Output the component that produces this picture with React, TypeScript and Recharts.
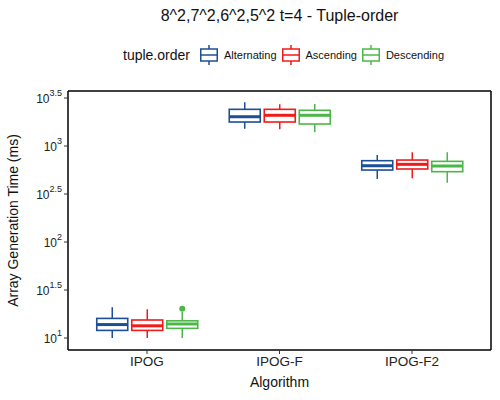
import { Bar, ComposedChart, Legend, XAxis, YAxis } from "recharts";

const algorithms = ["IPOG", "IPOG-F", "IPOG-F2"];
const orders = ["Alternating", "Ascending", "Descending"];
const colors = ["#1c4f96", "#f21a1a", "#4cb748"];

// [min, q1, median, q3, max] for each algorithm
const alternating = [
  [10, 12.0, 13.8, 16.0, 20.9],
  [1513, 1778, 2018, 2410, 2851],
  [453, 562, 623, 703, 806],
];
const ascending = [
  [10, 12.0, 13.4, 15.4, 19.9],
  [1493, 1778, 2089, 2410, 2716],
  [461, 576, 644, 714, 859],
];
const descending = [
  [10, 12.6, 14.0, 15.1, 18.7],
  [1390, 1694, 2089, 2355, 2738],
  [415, 540, 619, 692, 859],
];
const alternatingOutliers = [[], [], []];
const ascendingOutliers = [[], [], []];
const descendingOutliers = [[20.2], [], []];

const tickExponents = ["1", "1.5", "2", "2.5", "3", "3.5"];
const yTicks = tickExponents.map((e) => Math.pow(10, Number(e)));
const yDomain = [7.5, 3741];

const statsByOrder = [alternating, ascending, descending];
const outliersByOrder = [alternatingOutliers, ascendingOutliers, descendingOutliers];

const rows = algorithms.map((algorithm, i) => {
  const row: any = { algorithm };
  orders.forEach((o, k) => {
    row[o] = statsByOrder[k][i];
    row[o + "_out"] = outliersByOrder[k][i];
  });
  return row;
});

const font = "'Liberation Sans', Arial, sans-serif";

function boxShape(order: string, color: string) {
  return (props: any) => {
    const { x, y, width, height, payload } = props;
    const [lo, q1, med, q3, hi] = payload[order] as number[];
    const span = Math.log10(hi) - Math.log10(lo);
    // bar covers lo..hi on the log axis; place the inner stats on the same scale
    const py = (v: number) => y + (height * (Math.log10(hi) - Math.log10(v))) / span;
    const cx = x + width / 2;
    return (
      <g>
        <line x1={cx} x2={cx} y1={py(hi)} y2={py(q3)} stroke={color} strokeWidth={1.5} />
        <line x1={cx} x2={cx} y1={py(q1)} y2={py(lo)} stroke={color} strokeWidth={1.5} />
        <rect x={x} y={py(q3)} width={width} height={py(q1) - py(q3)} fill="#fff" stroke={color} strokeWidth={1.6} />
        <line x1={x} x2={x + width} y1={py(med)} y2={py(med)} stroke={color} strokeWidth={3} />
        {(payload[order + "_out"] as number[]).map((v, i) => (
          <circle key={i} cx={cx} cy={py(v)} r={3} fill={color} />
        ))}
      </g>
    );
  };
}

const PowerTick = (props: any) => {
  const { x, y, payload } = props;
  const idx = yTicks.findIndex((t) => Math.abs(t - payload.value) < 1e-6 * t);
  return (
    <text x={x} y={y} textAnchor="end" fontFamily={font} fill="#222">
      <tspan dy={5} fontSize={12}>10</tspan>
      <tspan dy={-7} fontSize={9}>{tickExponents[idx]}</tspan>
    </text>
  );
};

const LegendContent = (props: any) => {
  const items = props.payload || [];
  return (
    <div style={{ display: "flex", justifyContent: "center", alignItems: "center", fontFamily: font, color: "#111", paddingLeft: 8 }}>
      <span style={{ fontSize: 14, marginRight: 10 }}>tuple.order</span>
      {items.map((it: any, i: number) => (
        <span key={it.value} style={{ display: "flex", alignItems: "center", marginRight: i < items.length - 1 ? 5 : 0 }}>
          <svg width={18} height={20}>
            <line x1={9} x2={9} y1={0} y2={20} stroke={it.color} strokeWidth={1.5} />
            <rect x={0.75} y={4} width={16.5} height={12} fill="#fff" stroke={it.color} strokeWidth={1.5} />
            <line x1={0.75} x2={17.25} y1={10} y2={10} stroke={it.color} strokeWidth={1.5} />
          </svg>
          <span style={{ fontSize: 11, marginLeft: 6 }}>{it.value}</span>
        </span>
      ))}
    </div>
  );
};

export default function App() {
  return (
    <div style={{ position: "absolute", left: 0, top: 0, width: 500, height: 400, background: "#fff" }}>
      <ComposedChart width={500} height={400} data={rows} margin={{ top: 90, right: 8, bottom: 0, left: 0 }} barSize={31} barGap={4}>
        <XAxis
          dataKey="algorithm"
          type="category"
          height={50}
          padding={{ left: 12.75, right: 12.75 }}
          axisLine={{ stroke: "#000", strokeWidth: 1.5 }}
          tickLine={{ stroke: "#333" }}
          tickSize={4}
          tick={{ fontSize: 13.5, fill: "#222", fontFamily: font }}
          label={{ value: "Algorithm", position: "insideBottom", offset: 13, fontSize: 14, fill: "#111", fontFamily: font }}
        />
        <XAxis
          xAxisId="top"
          orientation="top"
          dataKey="algorithm"
          height={1}
          tick={false}
          tickLine={false}
          axisLine={{ stroke: "#000", strokeWidth: 1.5 }}
          label={(p: any) => (
            <text x={p.viewBox.x + p.viewBox.width / 2} y={21} textAnchor="middle" fontSize={16} fontFamily={font} fill="#111">
              8^2,7^2,6^2,5^2 t=4 - Tuple-order
            </text>
          )}
        />
        <YAxis
          type="number"
          scale="log"
          domain={yDomain}
          allowDataOverflow
          ticks={yTicks}
          width={68}
          axisLine={{ stroke: "#000", strokeWidth: 1.5 }}
          tickLine={{ stroke: "#333" }}
          tickSize={4}
          tick={<PowerTick />}
          label={(p: any) => {
            const cy = p.viewBox.y + p.viewBox.height / 2;
            return (
              <text x={18} y={cy} transform={`rotate(-90 18 ${cy})`} textAnchor="middle" fontSize={14} fontFamily={font} fill="#111">
                Array Generation Time (ms)
              </text>
            );
          }}
        />
        <YAxis yAxisId="right" orientation="right" width={1} tick={false} tickLine={false} axisLine={{ stroke: "#000", strokeWidth: 1.5 }} />
        <Legend
          verticalAlign="middle"
          align="center"
          layout="horizontal"
          content={<LegendContent />}
          wrapperStyle={{ top: 45, left: 68, width: 423, height: 20 }}
        />
        {orders.map((o, k) => (
          <Bar
            key={o}
            name={o}
            dataKey={(r: any) => [r[o][0], r[o][4]]}
            fill={colors[k]}
            shape={boxShape(o, colors[k])}
            isAnimationActive={false}
          />
        ))}
      </ComposedChart>
    </div>
  );
}
